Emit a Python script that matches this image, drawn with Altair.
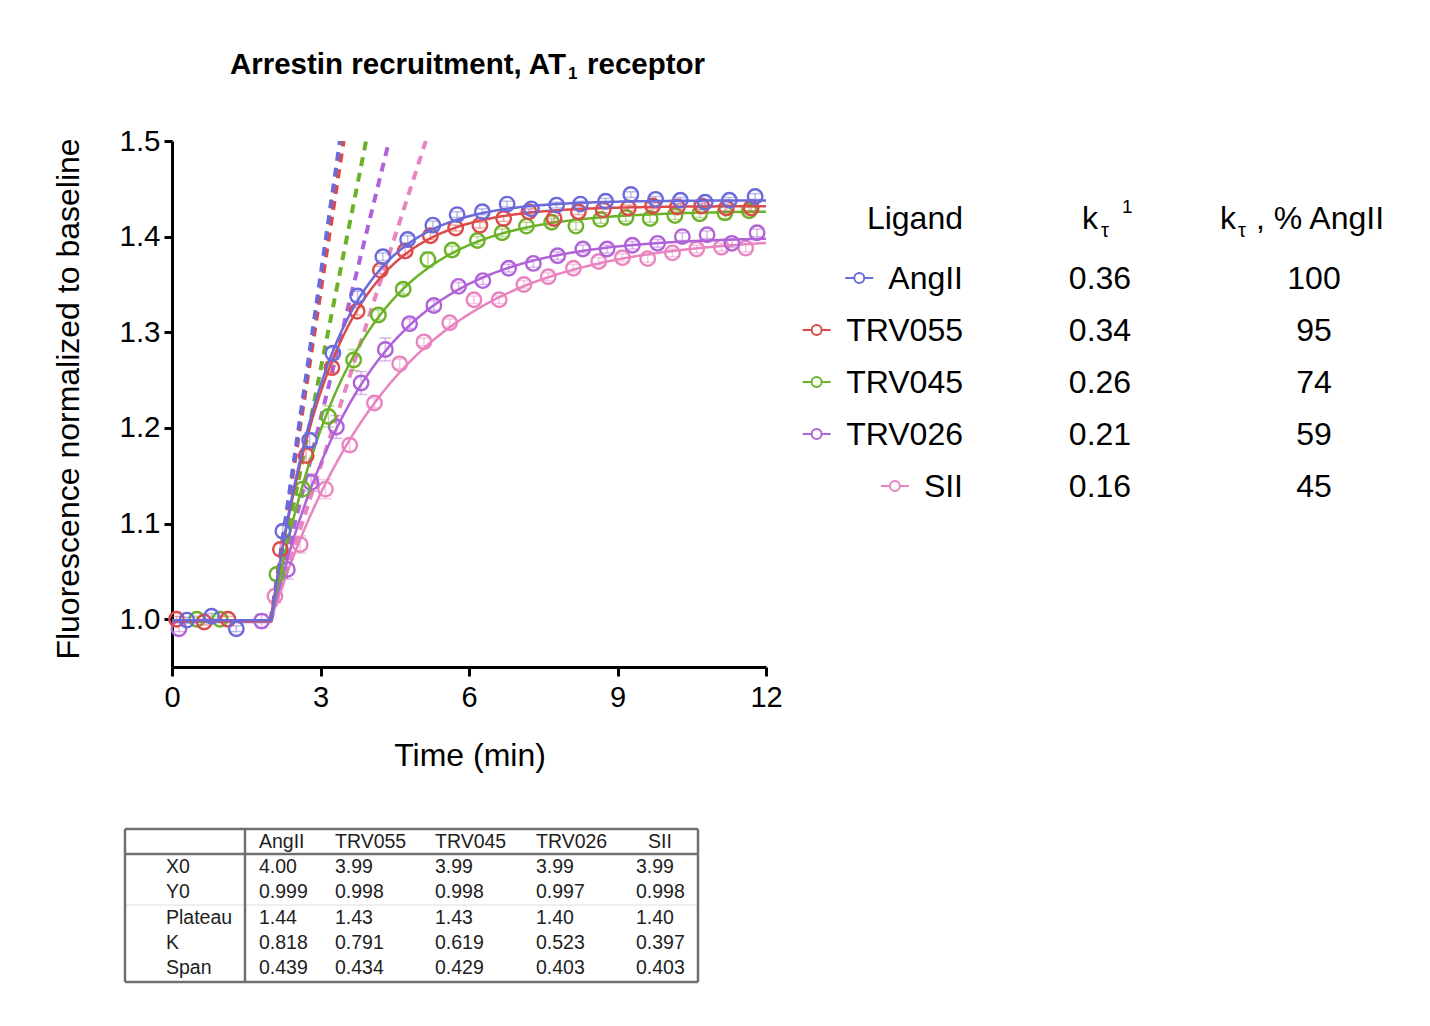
import numpy as np
import pandas as pd
import altair as alt

# ---------------------------------------------------------------- data
ligands = ["AngII", "TRV055", "TRV045", "TRV026", "SII"]
colors = ["#6a6ada", "#dd4a4a", "#6cb228", "#b062d8", "#e884c0"]

# plateau followed by one-phase association fit (read-time clock)
x0_fit = [4.00, 3.99, 3.99, 3.99, 3.99]
y0_fit = [0.999, 0.998, 0.998, 0.997, 0.998]
plateau_fit = [1.44, 1.43, 1.43, 1.40, 1.40]
k_fit = [0.818, 0.791, 0.619, 0.523, 0.397]
span_fit = [0.439, 0.434, 0.429, 0.403, 0.403]

# initial rate (k_tau = K * Span) and relative to AngII
k_tau = [0.36, 0.34, 0.26, 0.21, 0.16]
k_tau_pct = [100, 95, 74, 59, 45]

# the plotted time axis starts 2 min after the read clock
time_shift = 2.0

angii_t = [0.30, 0.80, 1.30, 2.24, 2.78, 3.25, 3.75, 4.26, 4.76, 5.27, 5.76, 6.27,
           6.77, 7.26, 7.77, 8.25, 8.76, 9.27, 9.77, 10.27, 10.77, 11.26, 11.78]
angii_y = [0.999, 1.003, 0.990, 1.092, 1.187, 1.278, 1.338, 1.379, 1.397, 1.412, 1.423, 1.426,
           1.434, 1.429, 1.433, 1.434, 1.437, 1.444, 1.439, 1.438, 1.436, 1.438, 1.442]
angii_e = [0.003, 0.003, 0.003, 0.006, 0.008, 0.006, 0.005, 0.004, 0.004, 0.004, 0.003, 0.003,
           0.003, 0.003, 0.003, 0.003, 0.003, 0.003, 0.003, 0.003, 0.003, 0.003, 0.003]

trv055_t = [0.09, 0.65, 1.13, 2.19, 2.71, 3.23, 3.74, 4.21, 4.71, 5.22, 5.73, 6.22,
            6.70, 7.21, 7.72, 8.21, 8.71, 9.22, 9.71, 10.21, 10.70, 11.20, 11.70]
trv055_y = [1.000, 0.997, 1.000, 1.073, 1.171, 1.263, 1.322, 1.365, 1.385, 1.401, 1.409, 1.412,
            1.419, 1.426, 1.419, 1.426, 1.428, 1.430, 1.432, 1.431, 1.432, 1.430, 1.430]
trv055_e = [0.003, 0.003, 0.003, 0.006, 0.007, 0.005, 0.004, 0.004, 0.004, 0.004, 0.003, 0.003,
            0.003, 0.003, 0.003, 0.003, 0.003, 0.003, 0.003, 0.003, 0.003, 0.003, 0.003]

trv045_t = [0.50, 0.97, 2.12, 2.64, 3.16, 3.67, 4.17, 4.67, 5.17, 5.66, 6.17, 6.67,
            7.16, 7.67, 8.16, 8.66, 9.17, 9.66, 10.16, 10.66, 11.17, 11.66]
trv045_y = [1.000, 1.000, 1.047, 1.136, 1.212, 1.271, 1.318, 1.345, 1.376, 1.386, 1.396, 1.404,
            1.411, 1.415, 1.411, 1.418, 1.420, 1.419, 1.422, 1.424, 1.425, 1.427]
trv045_e = [0.003, 0.003, 0.006, 0.007, 0.011, 0.011, 0.005, 0.005, 0.008, 0.004, 0.004, 0.004,
            0.004, 0.004, 0.004, 0.004, 0.004, 0.004, 0.004, 0.004, 0.007, 0.004]

trv026_t = [0.14, 1.81, 2.33, 2.81, 3.32, 3.82, 4.31, 4.80, 5.29, 5.79, 6.28, 6.80,
            7.30, 7.79, 8.30, 8.79, 9.30, 9.81, 10.31, 10.81, 11.31, 11.82]
trv026_y = [0.990, 0.998, 1.052, 1.143, 1.201, 1.247, 1.282, 1.309, 1.328, 1.348, 1.354, 1.367,
            1.372, 1.380, 1.387, 1.387, 1.391, 1.393, 1.400, 1.402, 1.393, 1.404]
trv026_e = [0.003, 0.007, 0.010, 0.009, 0.012, 0.012, 0.012, 0.005, 0.005, 0.004, 0.004, 0.004,
            0.004, 0.004, 0.004, 0.004, 0.004, 0.004, 0.004, 0.004, 0.004, 0.004]

sii_t = [2.08, 2.59, 3.10, 3.59, 4.09, 4.60, 5.09, 5.61, 6.10, 6.61, 7.11, 7.60,
         8.11, 8.62, 9.10, 9.61, 10.11, 10.60, 11.10, 11.59]
sii_y = [1.024, 1.078, 1.136, 1.182, 1.226, 1.267, 1.290, 1.310, 1.334, 1.334, 1.350, 1.358,
         1.367, 1.374, 1.378, 1.377, 1.383, 1.387, 1.389, 1.388]
sii_e = [0.007, 0.009, 0.010, 0.006, 0.005, 0.005, 0.004, 0.004, 0.004, 0.004, 0.004, 0.004,
         0.004, 0.004, 0.004, 0.004, 0.004, 0.004, 0.004, 0.004]

obs_t = [angii_t, trv055_t, trv045_t, trv026_t, sii_t]
obs_y = [angii_y, trv055_y, trv045_y, trv026_y, sii_y]
obs_e = [angii_e, trv055_e, trv045_e, trv026_e, sii_e]

title_main = "Arrestin recruitment, AT"
title_sub = "1"
title_tail = "receptor"
x_title = "Time (min)"
y_title = "Fluorescence normalized to baseline"
x_ticks = [0, 3, 6, 9, 12]
y_ticks = [1.0, 1.1, 1.2, 1.3, 1.4, 1.5]

table_rows = ["X0", "Y0", "Plateau", "K", "Span"]
table_values = [x0_fit, y0_fit, plateau_fit, k_fit, span_fit]
table_formats = ["{:.2f}", "{:.3f}", "{:.2f}", "{:.3f}", "{:.3f}"]

# ---------------------------------------------------------------- layout
FONT = "Liberation Sans"
OX, OY = 172, 141          # page position of the plot area's top-left
W, H = 594, 526            # plot area
CANVAS_W, CANVAS_H = 1430, 1026
Y_TOP = 1.5

x_scale = alt.Scale(domain=[0, 12], nice=False, zero=False)
y_scale = alt.Scale(domain=[0.95, 1.5], nice=False, zero=False)

axis_x = alt.Axis(values=x_ticks, title=None, grid=False, labelFont=FONT, labelFontSize=29,
                  labelColor="black", labelPadding=7, tickColor="black", tickWidth=3,
                  tickSize=9, domainColor="black", domainWidth=3, labelFlush=False)
axis_y = alt.Axis(values=y_ticks, format=".1f", title=None, grid=False, labelFont=FONT,
                  labelFontSize=29.5, labelColor="black", labelPadding=4, tickColor="black",
                  tickWidth=3, tickSize=8, domainColor="black", domainWidth=3)


def X(field):
    return alt.X(field, type="quantitative", scale=x_scale, axis=axis_x)


def Y(field):
    return alt.Y(field, type="quantitative", scale=y_scale, axis=axis_y)


# Arial / Liberation Sans advance widths (em) for legend label sizing
GLYPH_W = {"A": 0.667, "n": 0.556, "g": 0.556, "I": 0.278, "T": 0.611, "R": 0.722,
           "V": 0.667, "S": 0.667, "0": 0.556, "2": 0.556, "4": 0.556, "5": 0.556,
           "6": 0.556}


def text_width(s, size):
    return sum(GLYPH_W.get(ch, 0.556) for ch in s) * size


one_row = pd.DataFrame({"_": [0]})


def page_text(text, x, y, size, align="left", baseline="alphabetic",
              weight="normal", angle=0, color="black"):
    return alt.Chart(one_row).mark_text(
        text=text, align=align, baseline=baseline, font=FONT, fontSize=size,
        fontWeight=weight, angle=angle, color=color,
    ).encode(x=alt.value(x - OX), y=alt.value(y - OY))


def page_rule(x1, y1, x2, y2, color, width):
    return alt.Chart(one_row).mark_rule(color=color, strokeWidth=width).encode(
        x=alt.value(x1 - OX), x2=alt.value(x2 - OX),
        y=alt.value(y1 - OY), y2=alt.value(y2 - OY))


def page_point(x, y, color, size, fill="white", width=2.0):
    return alt.Chart(one_row).mark_point(
        shape="circle", filled=True, fill=fill, stroke=color, strokeWidth=width,
        size=size, opacity=1, fillOpacity=1,
    ).encode(x=alt.value(x - OX), y=alt.value(y - OY))


# ---------------------------------------------------------------- fitted curves
curve_frames, dash_frames = [], []
for i, lig in enumerate(ligands):
    x0p = x0_fit[i] - time_shift
    t = np.union1d(np.linspace(0, 12, 601), [x0p])
    y = np.where(t < x0p, y0_fit[i],
                 y0_fit[i] + span_fit[i] * (1 - np.exp(-k_fit[i] * (t - x0p))))
    curve_frames.append(pd.DataFrame({"ligand": lig, "t": t, "y": y}))
    t_end = x0p + (Y_TOP - y0_fit[i]) / k_tau[i]
    dash_frames.append(pd.DataFrame({"ligand": lig, "t": [x0p, t_end],
                                     "y": [y0_fit[i], Y_TOP]}))

obs_frames = [pd.DataFrame({"ligand": lig, "t": obs_t[i], "y": obs_y[i],
                            "lo": np.array(obs_y[i]) - np.array(obs_e[i]),
                            "hi": np.array(obs_y[i]) + np.array(obs_e[i])})
              for i, lig in enumerate(ligands)]

layers = []
order = list(range(len(ligands)))[::-1]

# dashed initial-rate lines
for i in order:
    layers.append(
        alt.Chart(dash_frames[i]).mark_line(color=colors[i], strokeWidth=4,
                                            strokeDash=[9, 7]).encode(x=X("t"), y=Y("y"))
    )

for i in order:
    c = colors[i]
    ob = obs_frames[i]
    layers.append(
        alt.Chart(ob).mark_rule(color=c, strokeWidth=1.5, opacity=0.45).encode(
            x=X("t"), y=Y("lo"), y2="hi:Q")
    )
    for end in ["lo", "hi"]:
        layers.append(
            alt.Chart(ob).mark_tick(color=c, orient="horizontal", size=12, thickness=1.5,
                                    opacity=0.45).encode(x=X("t"), y=Y(end))
        )
    layers.append(
        alt.Chart(curve_frames[i]).mark_line(color=c, strokeWidth=2.5).encode(
            x=X("t"), y=Y("y"))
    )
    layers.append(
        alt.Chart(ob).mark_point(shape="circle", filled=False, color=c, size=210,
                                 strokeWidth=2.4, opacity=1).encode(x=X("t"), y=Y("y"))
    )

# ---------------------------------------------------------------- titles
layers.append(page_text(title_main, 566, 74, 29.5, align="right", weight="bold"))
layers.append(page_text(title_sub, 568, 79, 17, weight="bold"))
layers.append(page_text(title_tail, 587, 74, 29.5, weight="bold"))
layers.append(page_text(x_title, 470, 756, 32, align="center", baseline="middle"))
layers.append(page_text(y_title, 69, 399, 32, align="center", baseline="middle", angle=270))

# ---------------------------------------------------------------- rate legend table
LEG_NAME_RIGHT, LEG_COL2, LEG_COL3 = 963, 1100, 1314
LEG_HEAD_BASE, LEG_ROW0, LEG_STEP = 229, 289, 52
LEG_SIZE = 32

layers.append(page_text("Ligand", LEG_NAME_RIGHT, LEG_HEAD_BASE, LEG_SIZE, align="right"))
layers.append(page_text("k", 1082, LEG_HEAD_BASE, LEG_SIZE))
layers.append(page_text("\u03c4", 1101, 237, 20))
layers.append(page_text("1", 1122, 213, 19))
layers.append(page_text("k", 1220, LEG_HEAD_BASE, LEG_SIZE))
layers.append(page_text("\u03c4", 1238, 237, 20))
layers.append(page_text(", % AngII", 1256, LEG_HEAD_BASE, LEG_SIZE))

for i, lig in enumerate(ligands):
    base_y = LEG_ROW0 + i * LEG_STEP
    sym_x = LEG_NAME_RIGHT - text_width(lig, LEG_SIZE) - 29
    sym_y = base_y - 11
    layers.append(page_rule(sym_x - 14, sym_y, sym_x + 14, sym_y, colors[i], 2))
    layers.append(page_point(sym_x, sym_y, colors[i], 100))
    layers.append(page_text(lig, LEG_NAME_RIGHT, base_y, LEG_SIZE, align="right"))
    layers.append(page_text(f"{k_tau[i]:.2f}", LEG_COL2, base_y, LEG_SIZE, align="center"))
    layers.append(page_text(f"{k_tau_pct[i]}", LEG_COL3, base_y, LEG_SIZE, align="center"))

# ---------------------------------------------------------------- parameter table
TB_L, TB_R, TB_T, TB_B = 125, 698, 829, 982
TB_HEAD_LINE, TB_DIV_X, TB_LIGHT_LINE = 854, 245, 905
TB_HEAD_Y = 842
TB_ROW_Y = [867, 892, 918, 943, 968]
TB_LABEL_X = 166
TB_COL_X = [259, 335, 435, 536, 636]
TB_HEAD_X = [259, 335, 435, 536, 648]
TB_SIZE = 19.5
TB_INK = "#1e1e1e"
TB_LINE = "#6f6f6f"

layers.append(page_rule(TB_L, TB_LIGHT_LINE, TB_R, TB_LIGHT_LINE, "#dedede", 1))
layers.append(page_rule(TB_L, TB_HEAD_LINE, TB_R, TB_HEAD_LINE, TB_LINE, 2.5))
layers.append(page_rule(TB_DIV_X, TB_T, TB_DIV_X, TB_B, TB_LINE, 2.5))
layers.append(page_rule(TB_L, TB_T, TB_R, TB_T, TB_LINE, 2.5))
layers.append(page_rule(TB_L, TB_B, TB_R, TB_B, TB_LINE, 2.5))
layers.append(page_rule(TB_L, TB_T, TB_L, TB_B, TB_LINE, 2.5))
layers.append(page_rule(TB_R, TB_T, TB_R, TB_B, TB_LINE, 2.5))

for j, lig in enumerate(ligands):
    layers.append(page_text(lig, TB_HEAD_X[j], TB_HEAD_Y, TB_SIZE, baseline="middle",
                            color=TB_INK))
for r, name in enumerate(table_rows):
    layers.append(page_text(name, TB_LABEL_X, TB_ROW_Y[r], TB_SIZE, baseline="middle",
                            color=TB_INK))
    for j in range(len(ligands)):
        layers.append(page_text(table_formats[r].format(table_values[r][j]), TB_COL_X[j],
                                TB_ROW_Y[r], TB_SIZE, baseline="middle", color=TB_INK))

chart = alt.layer(*layers).properties(
    width=W, height=H,
    autosize=alt.AutoSizeParams(type="none"),
    padding={"left": OX, "top": OY, "right": CANVAS_W - OX - W, "bottom": CANVAS_H - OY - H},
    background="white",
).configure_view(stroke=None)

chart.save("out.html", embed_options={"renderer": "svg", "actions": False})
